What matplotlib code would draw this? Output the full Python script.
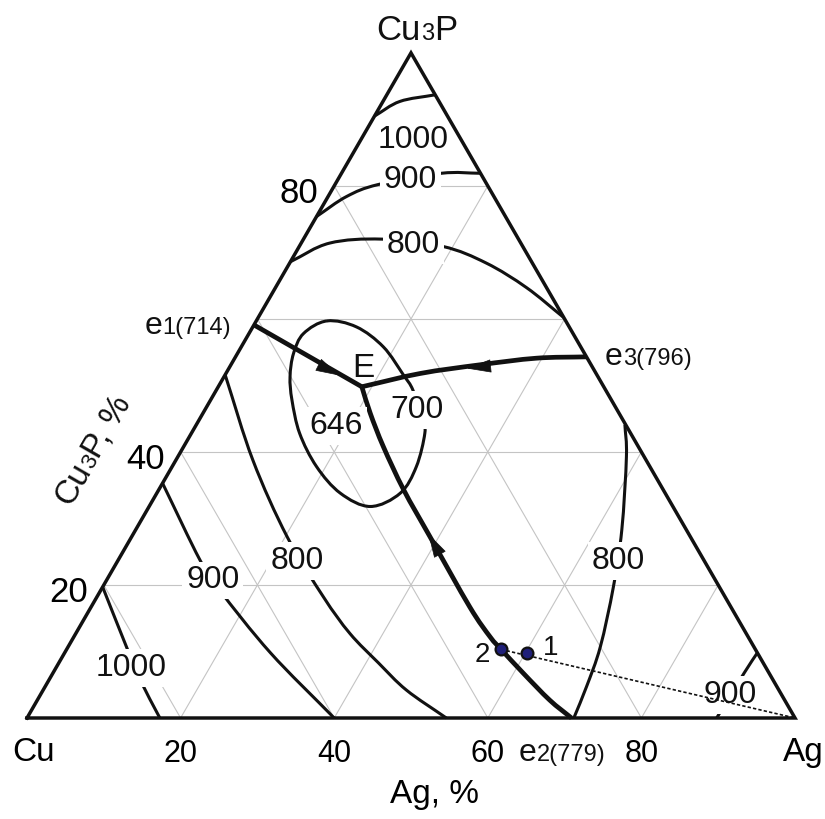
import numpy as np
import matplotlib
matplotlib.use("Agg")
import matplotlib.pyplot as plt
from matplotlib.path import Path
from matplotlib.patches import PathPatch
from matplotlib.transforms import ScaledTranslation

plt.rcParams["font.family"] = ["Liberation Sans", "DejaVu Sans"]

# compositions in % as (Ag, Cu3P); Cu is the remainder
iso1000_top = [(0, 90.5), (2.2, 92.7), (6.3, 93.7)]
iso900_top = [(0, 75.4), (2.4, 78.4), (5.6, 80.2), (13.0, 81.9), (18.1, 81.9)]
iso800_top = [(0, 68.6), (3.7, 71.4), (10.2, 72.0), (18.7, 70.9),
              (25.6, 68.4), (32.7, 64.7), (39.8, 60.2)]
iso1000_cu = [(0, 19.7), (7.6, 10.7), (11.9, 5.7), (17.3, 0)]
iso900_cu = [(0, 35.3), (10.6, 23.8), (15.5, 19.2), (26.8, 9.8), (40.0, 0)]
iso800_cu = [(0, 51.6), (10.0, 38.8), (20.2, 27.3), (29.5, 18.2), (35.7, 12.7),
             (41.6, 8.3), (47.3, 4.2), (54.6, 0)]
iso800_ag = [(55.8, 44.1), (58.4, 39.3), (63.3, 28.3), (66.5, 19.7),
             (69.3, 10.7), (70.5, 4.7), (71.2, 0)]
iso900_ag = [(90.2, 9.8), (90.0, 6.8), (89.8, 0)]
iso700 = [(9.2, 59.7), (7.1, 57.8), (7.3, 54.8), (8.6, 51.3), (10.6, 47.8), (14.1, 42.8),
          (18.8, 37.8), (23.9, 33.8), (28.8, 31.8), (31.7, 33.8), (31.8, 37.8),
          (30.4, 42.8), (29.1, 44.8), (25.6, 49.3), (23.2, 51.6), (18.5, 55.8), (13.5, 58.8)]

# invariant points
e1 = (0, 59.1)
e2 = (70.9, 0)
e3 = (45.7, 54.3)
E = (18.7, 49.8)
t_E = 646
t_e1, t_e2, t_e3 = 714, 779, 796

# monovariant valleys
valley_e1 = [e1, E]
valley_e3 = [e3, (39.3, 54.1), (32.4, 53.1), (25.3, 51.8), E]
valley_e2 = [e2, (66.7, 2.7), (61.3, 6.7), (56.6, 10.3), (54.2, 12.2), (49.3, 16.7),
             (38.8, 27.3), (31.9, 34.3), (26.0, 40.8), (21.8, 45.8), E]

# alloys 1 and 2
alloy1 = (60.2, 9.7)
alloy2 = (56.6, 10.3)

ticks = [20, 40, 60, 80]
side_ticks = [20, 40, 80]

H = np.sqrt(3) / 2


def xy(ag, p):
    return ag / 100 + p / 200, p / 100 * H


def to_xy(pts):
    return np.array([xy(a, p) for a, p in pts])


def smooth_path(pts, closed=False):
    P = to_xy(pts)
    if closed:
        ext = np.vstack([P[-1], P, P[0], P[1]])
        n = len(P)
    else:
        ext = np.vstack([2 * P[0] - P[1], P, 2 * P[-1] - P[-2]])
        n = len(P) - 1
    verts = [P[0]]
    codes = [Path.MOVETO]
    for i in range(n):
        p0, p1, p2, p3 = ext[i], ext[i + 1], ext[i + 2], ext[i + 3]
        verts += [p1 + (p2 - p0) / 6, p2 - (p3 - p1) / 6, p2]
        codes += [Path.CURVE4] * 3
    return Path(verts, codes)


fig = plt.figure(figsize=(8.25, 8.19), dpi=100)
ax = fig.add_axes([0, 0, 1, 1])
ax.set_xlim(-27 / 768, 798 / 768)
ax.set_ylim(-101 / 768, 718 / 768)
ax.axis("off")

# light grid every 20 %
for v in ticks:
    for a, b in [((0, v), (100 - v, v)), ((v, 0), (v, 100 - v)), ((100 - v, 0), (0, 100 - v))]:
        pa, pb = xy(*a), xy(*b)
        ax.plot([pa[0], pb[0]], [pa[1], pb[1]], color="#c4c4c4", lw=0.8, zorder=1)

# isotherms
for curve in [iso1000_top, iso900_top, iso800_top, iso1000_cu, iso900_cu,
              iso800_cu, iso800_ag, iso900_ag]:
    ax.add_patch(PathPatch(smooth_path(curve), fill=False, lw=2.2, ec="#111111",
                           capstyle="butt", zorder=3))
ax.add_patch(PathPatch(smooth_path(iso700, closed=True), fill=False, lw=2.2,
                       ec="#111111", zorder=3))

# valleys
for curve in [valley_e1, valley_e3, valley_e2]:
    ax.add_patch(PathPatch(smooth_path(curve), fill=False, lw=3.4, ec="#111111",
                           joinstyle="miter", capstyle="butt", zorder=4))


def arrow(tip, toward):
    t = np.array(xy(*tip))
    d = np.array(xy(*toward)) - t
    d = d / np.hypot(*d)
    ax.annotate("", xy=t + d * 0.004, xytext=t - d * 0.002,
                arrowprops=dict(arrowstyle="-|>,head_length=0.8,head_width=0.22",
                                color="#111111", lw=0.5, shrinkA=0, shrinkB=0,
                                mutation_scale=20), zorder=5)


arrow((14.5, 51.7), E)
arrow((31.4, 52.6), (25.3, 51.8))
arrow((38.8, 27.3), (31.9, 34.3))

# triangle
tri = to_xy([(0, 0), (100, 0), (0, 100), (0, 0)])
ax.plot(tri[:, 0], tri[:, 1], color="#111111", lw=2.5, solid_joinstyle="miter", zorder=8)

# tie line from Ag through the alloys
pa, pb = xy(*alloy2), xy(100, 0)
ax.plot([pa[0], pb[0]], [pa[1], pb[1]], color="#111111", lw=1.2,
        linestyle=(0, (2.0, 1.3)), zorder=8)
for pt in [alloy1, alloy2]:
    ax.plot(*xy(*pt), "o", ms=8.5, mfc="#1f1f78", mec="#111111", mew=1.6, zorder=9)

box = dict(boxstyle="square,pad=0.12", fc="white", ec="none")


def label(s, ag, p, size=23, bg=True):
    ax.text(*xy(ag, p), s, fontsize=size, ha="center", va="center_baseline",
            color="#111111", bbox=box if bg else None, zorder=7)


label("1000", 6.6, 87.4)
label("900", 9.2, 81.4)
label("800", 14.5, 71.6)
label("1000", 9.6, 8.0)
label("900", 13.6, 21.2)
label("800", 23.1, 24.1)
label("800", 65.0, 24.1)
label("900", 89.6, 4.0)
label("700", 27.4, 46.8)
label(str(t_E), 18.1, 44.4)
label("E", 17.2, 53.1, size=24, bg=False)
label("2", 54.3, 9.9, size=20, bg=False)
label("1", 62.7, 11.0, size=20, bg=False)

renderer = fig.canvas.get_renderer()


def piece_text(x, y, parts, rot=0, center=False):
    # parts drawn side by side along one baseline, each with its own size
    widths = []
    for s, fs in parts:
        t = ax.text(0, 0, s, fontsize=fs)
        widths.append(t.get_window_extent(renderer).width)
        t.remove()
    off = -sum(widths) / 2 if center else 0
    c, sn = np.cos(np.radians(rot)), np.sin(np.radians(rot))
    for (s, fs), w in zip(parts, widths):
        ax.annotate(s, (x, y), xytext=(off * c, off * sn), textcoords="offset pixels",
                    fontsize=fs, rotation=rot, rotation_mode="anchor",
                    ha="left", va="baseline", color="#111111", zorder=7)
        off += w


piece_text(0.5078, 0.8828, [("Cu", 25), ("3", 17), ("P", 25)], center=True)
piece_text(0.096, 0.343, [("Cu", 24), ("3", 16), ("P, %", 24)], rot=60, center=True)
piece_text((145 - 27) / 768, (718 - 334) / 768, [("e", 23), ("1(%d)" % t_e1, 17)])
piece_text((605 - 27) / 768, (718 - 365) / 768, [("e", 23), ("3(%d)" % t_e3, 17)])
piece_text((519 - 27) / 768, (718 - 761) / 768, [("e", 23), ("2(%d)" % t_e2, 17)])


def shifted(dx, dy):
    # offset in pixels from a data point
    return ax.transData + ScaledTranslation(dx / 100, dy / 100, fig.dpi_scale_trans)


# scale numbers
for v in ticks:
    ax.text(*xy(v, 0), str(v), fontsize=22, ha="center", va="center_baseline",
            transform=shifted(0, -32))
for v in side_ticks:
    ax.text(*xy(0, v), str(v), fontsize=25, ha="center", va="center_baseline",
            transform=shifted(-35, -4))

ax.text(*xy(0, 0), "Cu", fontsize=24, ha="center", va="center_baseline",
        transform=shifted(7, -31))
ax.text(*xy(100, 0), "Ag", fontsize=24, ha="center", va="center_baseline",
        transform=shifted(8, -31))
ax.text(*xy(50, 0), "Ag, %", fontsize=24, ha="center", va="center_baseline",
        transform=shifted(23, -73))

fig.savefig("out.png", dpi=100)
